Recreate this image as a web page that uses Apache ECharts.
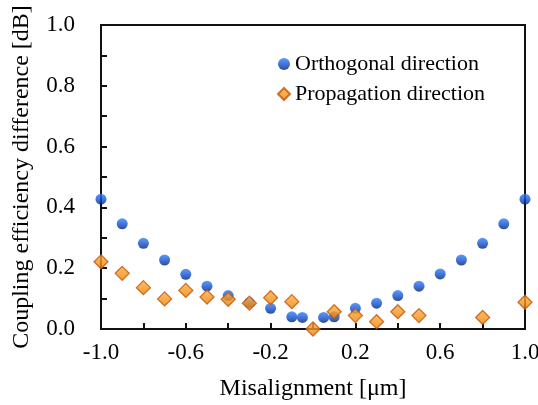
<!DOCTYPE html>
<html>
<head>
<meta charset="utf-8">
<script src="https://cdn.jsdelivr.net/npm/echarts@6/dist/echarts.min.js"></script>
<style>
  html, body { margin: 0; padding: 0; background: #fff; }
  #chart { width: 538px; height: 405px; }
</style>
</head>
<body>
<div id="chart"></div>
<script>
// misalignment positions [um] and coupling difference [dB]
var orthoX = [-1.0, -0.9, -0.8, -0.7, -0.6, -0.5, -0.4, -0.3, -0.2, -0.1, -0.05,
              0.05, 0.1, 0.2, 0.3, 0.4, 0.5, 0.6, 0.7, 0.8, 0.9, 1.0];
var orthoY = [0.427, 0.346, 0.282, 0.227, 0.180, 0.141, 0.110, 0.087, 0.068, 0.040, 0.038,
              0.038, 0.040, 0.068, 0.085, 0.110, 0.141, 0.181, 0.227, 0.282, 0.346, 0.427];

var propX = [-1.0, -0.9, -0.8, -0.7, -0.6, -0.5, -0.4, -0.3, -0.2, -0.1, 0.0,
             0.1, 0.2, 0.3, 0.4, 0.5, 0.8, 1.0];
var propY = [0.221, 0.183, 0.136, 0.099, 0.127, 0.105, 0.098, 0.085, 0.103, 0.090, 0.0,
             0.057, 0.044, 0.024, 0.057, 0.044, 0.038, 0.088];

var xLabels = ["-1.0", "-0.6", "-0.2", "0.2", "0.6", "1.0"];
var yLabels = ["0.0", "0.2", "0.4", "0.6", "0.8", "1.0"];

function pairs(xs, ys) {
    var out = [];
    for (var i = 0; i < xs.length; i++) {
        out.push([xs[i], ys[i]]);
    }
    return out;
}

var serif = "Liberation Serif";
var ink = "#111";

// glossy ball look: light top, dark bottom
// (new object each time, sharing one instance broke the axis line colours)
function blueBall() {
    return new echarts.graphic.LinearGradient(0, 0, 0, 1, [
        { offset: 0, color: "#3582f5" },
        { offset: 0.5, color: "#1254d8" },
        { offset: 1, color: "#02226e" }
    ]);
}
function orangeFill() {
    return new echarts.graphic.LinearGradient(0, 0, 0, 1, [
        { offset: 0, color: "#ffb03a" },
        { offset: 1, color: "#ea7f0a" }
    ]);
}

var chart = echarts.init(document.getElementById("chart"), null, { renderer: "canvas" });

chart.setOption({
    animation: false,
    grid: {
        left: 101, right: 13, top: 25, bottom: 76,
        outerBoundsMode: "none",
        show: true, borderColor: ink, borderWidth: 2
    },
    legend: {
        orient: "vertical",
        left: 272, top: 48,
        itemGap: 8,
        itemWidth: 12, itemHeight: 12,
        textStyle: { fontFamily: serif, fontSize: 22, color: "#000" },
        data: [
            { name: "Orthogonal direction", icon: "circle",
              itemStyle: { color: blueBall(), borderWidth: 0 } },
            { name: "Propagation direction", icon: "diamond" }
        ]
    },
    xAxis: {
        type: "value",
        min: -1, max: 1, interval: 0.2,
        name: "Misalignment [\u03bcm]",
        nameLocation: "middle", nameGap: 48,
        nameTextStyle: { fontFamily: serif, fontSize: 24, color: "#000" },
        axisLine: { show: true, onZero: false, lineStyle: { color: ink, width: 2 } },
        axisTick: { show: true, inside: true, length: 6, lineStyle: { color: ink, width: 2 } },
        axisLabel: {
            margin: 12,
            fontFamily: serif, fontSize: 23, color: "#000",
            formatter: function (v) {
                var s = v.toFixed(1);
                return xLabels.indexOf(s) >= 0 ? s : "";
            }
        },
        splitLine: { show: false }
    },
    yAxis: {
        type: "value",
        min: 0, max: 1, interval: 0.1,
        name: "Coupling efficiency difference [dB]",
        nameLocation: "middle", nameGap: 67,
        nameTextStyle: { fontFamily: serif, fontSize: 24, color: "#000" },
        axisLine: { show: true, onZero: false, lineStyle: { color: ink, width: 2 } },
        axisTick: { show: true, inside: true, length: 6, lineStyle: { color: ink, width: 2 } },
        axisLabel: {
            margin: 26,
            fontFamily: serif, fontSize: 23, color: "#000",
            formatter: function (v) {
                var s = v.toFixed(1);
                return yLabels.indexOf(s) >= 0 ? s : "";
            }
        },
        splitLine: { show: false }
    },
    series: [
        {
            name: "Orthogonal direction",
            type: "scatter",
            symbol: "circle",
            symbolSize: 11,
            clip: false,
            itemStyle: { color: blueBall() },
            data: pairs(orthoX, orthoY)
        },
        {
            name: "Propagation direction",
            type: "scatter",
            symbol: "diamond",
            symbolSize: 14,
            clip: false,
            itemStyle: { color: orangeFill(), borderColor: "#c0540a", borderWidth: 1.3 },
            data: pairs(propX, propY)
        }
    ]
});
</script>
</body>
</html>
